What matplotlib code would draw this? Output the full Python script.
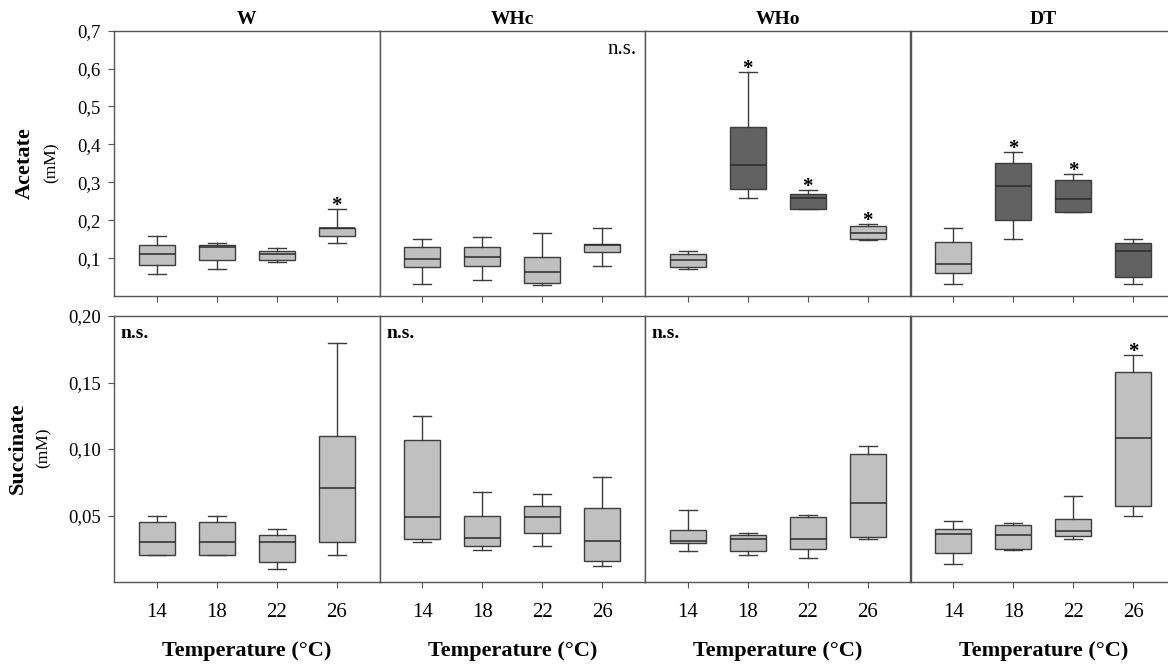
"""Acetate and succinate box plots by site and temperature"""

import matplotlib
matplotlib.use("Agg")
from matplotlib import pyplot as plt
from matplotlib.ticker import FuncFormatter

plt.rcParams['font.family'] = ['Liberation Serif', 'DejaVu Serif']

sites = ["W", "WHc", "WHo", "DT"]
temps = ["14", "18", "22", "26"]

# Acetate (mM), one row per site, one value per temperature
ac_lo = [[0.059, 0.070, 0.089, 0.139],
         [0.032, 0.043, 0.028, 0.078],
         [0.070, 0.258, 0.230, 0.149],
         [0.031, 0.151, 0.221, 0.031]]
ac_q1 = [[0.083, 0.095, 0.095, 0.159],
         [0.077, 0.080, 0.034, 0.115],
         [0.076, 0.282, 0.230, 0.151],
         [0.060, 0.201, 0.221, 0.050]]
ac_med = [[0.110, 0.129, 0.110, 0.179],
          [0.097, 0.102, 0.064, 0.134],
          [0.096, 0.345, 0.259, 0.166],
          [0.085, 0.291, 0.255, 0.120]]
ac_q3 = [[0.135, 0.134, 0.120, 0.180],
         [0.130, 0.128, 0.103, 0.138],
         [0.112, 0.447, 0.270, 0.184],
         [0.142, 0.351, 0.305, 0.141]]
ac_hi = [[0.159, 0.140, 0.127, 0.230],
         [0.151, 0.155, 0.165, 0.180],
         [0.120, 0.590, 0.279, 0.191],
         [0.180, 0.380, 0.322, 0.151]]
ac_dark = [[0, 0, 0, 0], [0, 0, 0, 0], [0, 1, 1, 0], [0, 1, 1, 1]]
ac_star = [[0, 0, 0, 1], [0, 0, 0, 0], [0, 1, 1, 1], [0, 1, 1, 0]]

# Succinate (mM)
su_lo = [[0.020, 0.020, 0.010, 0.020],
         [0.030, 0.024, 0.027, 0.0123],
         [0.023, 0.020, 0.0183, 0.032],
         [0.0138, 0.024, 0.0324, 0.0495]]
su_q1 = [[0.020, 0.020, 0.015, 0.030],
         [0.0327, 0.027, 0.037, 0.0156],
         [0.029, 0.023, 0.0246, 0.0337],
         [0.0216, 0.0246, 0.0347, 0.0568]]
su_med = [[0.030, 0.030, 0.030, 0.0705],
          [0.049, 0.033, 0.0485, 0.031],
          [0.031, 0.032, 0.032, 0.0593],
          [0.036, 0.0354, 0.0384, 0.1085]]
su_q3 = [[0.045, 0.045, 0.035, 0.110],
         [0.107, 0.0495, 0.057, 0.056],
         [0.039, 0.0357, 0.0485, 0.0965],
         [0.0397, 0.043, 0.0477, 0.158]]
su_hi = [[0.050, 0.050, 0.040, 0.180],
         [0.125, 0.068, 0.066, 0.079],
         [0.054, 0.037, 0.0507, 0.102],
         [0.0462, 0.044, 0.0643, 0.171]]
su_dark = [[0, 0, 0, 0]] * 4
su_star = [[0, 0, 0, 0], [0, 0, 0, 0], [0, 0, 0, 0], [0, 0, 0, 1]]

ac_ticks = [0.1, 0.2, 0.3, 0.4, 0.5, 0.6, 0.7]
su_ticks = [0.05, 0.10, 0.15, 0.20]

LIGHT = "#c0c0c0"
DARK = "#626262"
EDGE = "#3c3c3c"
SPINE = "#555555"

W, H = 1168, 670
fig = plt.figure(figsize=(W / 100, H / 100), dpi=100)


def comma(dec):
    return FuncFormatter(lambda v, p: f"{v:.{dec}f}".replace(".", ","))


def draw_panel(ax, lo, q1, med, q3, hi, dark, star, ylim):
    stats = [dict(whislo=lo[i], q1=q1[i], med=med[i], q3=q3[i], whishi=hi[i], fliers=[])
             for i in range(len(temps))]
    bp = ax.bxp(stats, positions=range(1, 5), widths=0.6, capwidths=0.3, patch_artist=True,
                boxprops=dict(edgecolor=EDGE, linewidth=1.0),
                whiskerprops=dict(color=EDGE, linewidth=1.0),
                capprops=dict(color=EDGE, linewidth=1.0),
                medianprops=dict(color="#2a2a2a", linewidth=1.1))
    for box, d in zip(bp['boxes'], dark):
        box.set_facecolor(DARK if d else LIGHT)
    for i, s in enumerate(star):
        if s:
            ax.annotate("*", (i + 1, hi[i]), xytext=(0, -5), textcoords="offset points",
                        ha="center", va="bottom", fontsize=15, fontweight="bold")
    ax.set_xlim(0.29, 4.71)
    ax.set_ylim(*ylim)
    for sp in ax.spines.values():
        sp.set_color(SPINE)
        sp.set_linewidth(1.0)
    ax.tick_params(axis="x", direction="out", length=4, color=SPINE, pad=11, labelsize=15)
    ax.tick_params(axis="y", direction="out", length=4.5, color=SPINE, pad=5, labelsize=13.5)


x0, pw = 114, 265.5
for i, site in enumerate(sites):
    left = (x0 + i * pw) / W
    ax_t = fig.add_axes([left, 1 - 296 / H, pw / W, 265.3 / H])
    ax_b = fig.add_axes([left, 1 - 582 / H, pw / W, 266 / H])

    draw_panel(ax_t, ac_lo[i], ac_q1[i], ac_med[i], ac_q3[i], ac_hi[i],
               ac_dark[i], ac_star[i], (0, 0.7))
    draw_panel(ax_b, su_lo[i], su_q1[i], su_med[i], su_q3[i], su_hi[i],
               su_dark[i], su_star[i], (0, 0.2))

    ax_t.set_title(site, fontsize=14, fontweight="bold", pad=5)
    ax_t.set_xticks(range(1, 5))
    ax_t.set_xticklabels([])
    ax_b.set_xticks(range(1, 5))
    ax_b.set_xticklabels(temps)
    ax_b.set_xlabel("Temperature (°C)", fontsize=16, fontweight="bold", labelpad=14)

    ax_t.set_yticks(ac_ticks)
    ax_b.set_yticks(su_ticks)
    if i == 0:
        ax_t.yaxis.set_major_formatter(comma(1))
        ax_b.yaxis.set_major_formatter(comma(2))
    else:
        ax_t.tick_params(axis="y", length=0, labelleft=False)
        ax_b.tick_params(axis="y", length=0, labelleft=False)

    # n.s. markers
    if site == "WHc":
        ax_t.text(0.97, 0.965, "n.s.", transform=ax_t.transAxes, ha="right", va="top", fontsize=15)
    if site != "DT":
        ax_b.text(0.025, 0.965, "n.s.", transform=ax_b.transAxes, ha="left", va="top",
                  fontsize=14, fontweight="bold")

# y axis labels
fig.text(25 / W, 1 - 163 / H, "Acetate", rotation=90, ha="center", va="center",
         fontsize=16, fontweight="bold")
fig.text(52 / W, 1 - 163 / H, "(mM)", rotation=90, ha="center", va="center", fontsize=12.5)
fig.text(18 / W, 1 - 448 / H, "Succinate", rotation=90, ha="center", va="center",
         fontsize=16, fontweight="bold")
fig.text(44 / W, 1 - 448 / H, "(mM)", rotation=90, ha="center", va="center", fontsize=12.5)

fig.savefig("out.png", dpi=100)
